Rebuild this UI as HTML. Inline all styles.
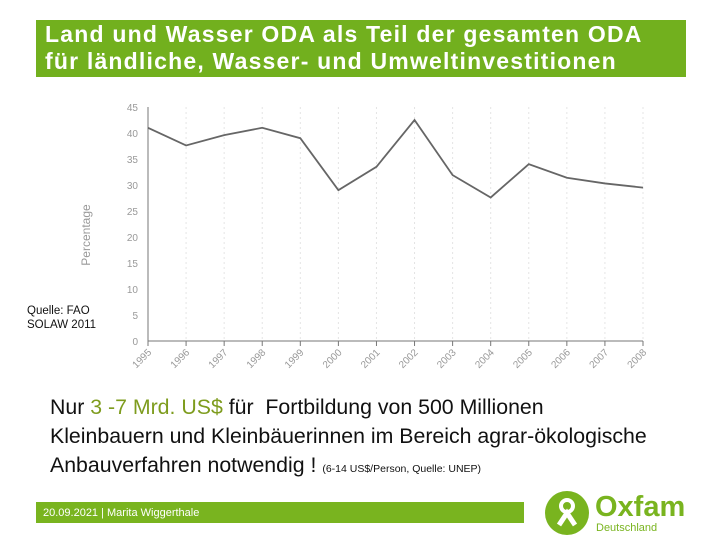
<!DOCTYPE html>
<html><head><meta charset="utf-8"><style>
body{margin:0;width:720px;height:540px;background:#fff;position:relative;font-family:"Liberation Sans",sans-serif;overflow:hidden}
.title{position:absolute;left:36px;top:20px;width:650px;height:57px;background:#72b01e;color:#fff;font-size:23px;font-weight:bold;letter-spacing:1.2px;line-height:27px;padding:1px 0 0 9px;box-sizing:border-box;white-space:nowrap}
.src{position:absolute;left:27px;top:304px;font-size:11.5px;line-height:14px;color:#111}
.body{position:absolute;left:50px;top:393px;font-size:21.3px;line-height:29px;color:#111;white-space:nowrap}
.foot{position:absolute;left:36px;top:502px;width:488px;height:21px;background:#79b41f;color:#fff;font-size:11px;line-height:22px;padding-left:7px;box-sizing:border-box}
</style></head><body>
<div class="title">Land und Wasser ODA als Teil der gesamten ODA<br>für ländliche, Wasser- und Umweltinvestitionen</div>
<svg id="chart" style="position:absolute;left:0;top:0" width="720" height="400"></svg>
<div class="src">Quelle: FAO<br>SOLAW 2011</div>
<div class="body">Nur <span style="color:#7e9c1e">3 -7 Mrd. US$</span> für &nbsp;Fortbildung von 500 Millionen<br>Kleinbauern und Kleinbäuerinnen im Bereich agrar-ökologische<br>Anbauverfahren notwendig ! <span style="font-size:10.5px">(6-14 US$/Person, Quelle: UNEP)</span></div>
<div class="foot">20.09.2021 | Marita Wiggerthale</div>
<svg style="position:absolute;left:540px;top:488px" width="180" height="50">
<circle cx="27" cy="25" r="22" fill="#79b41f"/>
<circle cx="27" cy="18" r="6" fill="none" stroke="#fff" stroke-width="4"/>
<path d="M19 37 L27 25 L35 37" fill="none" stroke="#fff" stroke-width="5"/>
<text x="55" y="28" font-size="29" font-weight="bold" fill="#79b41f" font-family="Liberation Sans">Oxfam</text>
<text x="56" y="43" font-size="11" fill="#79b41f" font-family="Liberation Sans">Deutschland</text>
</svg>
<script>
const years=["1995","1996","1997","1998","1999","2000","2001","2002","2003","2004","2005","2006","2007","2008"];
const values=[41,37.6,39.6,41,39,29,33.5,42.5,31.9,27.6,34,31.4,30.3,29.5];
const yTicks=[0,5,10,15,20,25,30,35,40,45];
const svg=document.getElementById('chart');
const NS='http://www.w3.org/2000/svg';
const x0=148,x1=643,y0=341,y1=107;
const xs=i=>x0+(x1-x0)*i/(years.length-1);
const ys=v=>y0-(y0-y1)*v/45;
function mk(t,a){const e=document.createElementNS(NS,t);for(const k in a)e.setAttribute(k,a[k]);svg.appendChild(e);return e;}
years.forEach((y,i)=>{
 const g=mk('line',{x1:xs(i),x2:xs(i),y1:y1,y2:y0,stroke:'#e4e4e4','stroke-dasharray':'2,3'});
 
 
 const t=mk('line',{x1:xs(i),x2:xs(i),y1:y0,y2:y0+5,stroke:'#777'});
 
 
 const l=mk('text',{x:xs(i)+4,y:y0+12,'font-size':'10','fill':'#999','text-anchor':'end',transform:`rotate(-45 ${xs(i)+4} ${y0+12})`});
 l.textContent=y;
 
 
});
yTicks.forEach(v=>{
 const l=mk('text',{x:x0-10,y:ys(v)+4,'font-size':'10','fill':'#999','text-anchor':'end'});
 l.textContent=v;
 
 
});
const ax=mk('path',{d:`M${x0} ${y1} V${y0} H${x1}`,fill:'none',stroke:'#777','stroke-width':'1'});


const yt=mk('text',{x:90,y:235,'font-size':'12','fill':'#999','text-anchor':'middle',transform:'rotate(-90 90 235)'});
yt.textContent='Percentage';


const ln=mk('polyline',{points:values.map((v,i)=>xs(i)+','+ys(v)).join(' '),fill:'none',stroke:'#666','stroke-width':'1.8'});


</script>
</body></html>
